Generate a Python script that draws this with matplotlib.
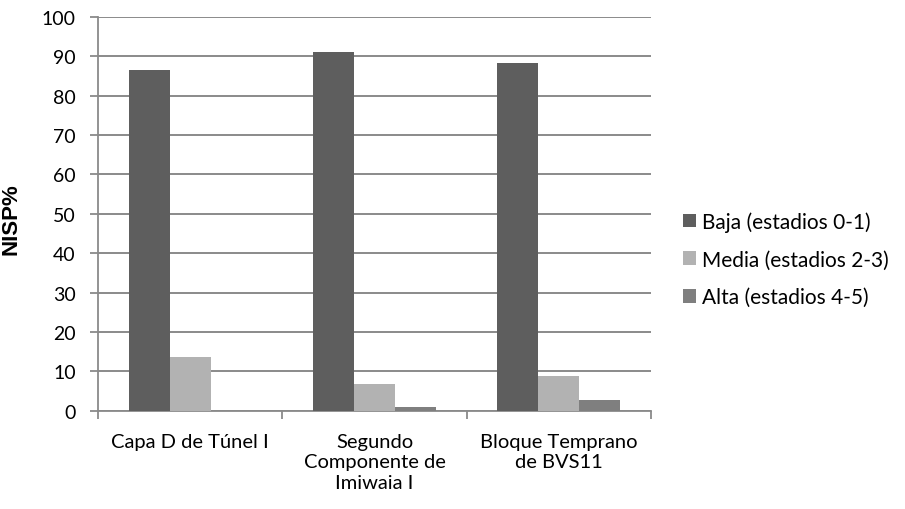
import numpy as np
import matplotlib.pyplot as plt

plt.rcParams['font.family'] = ['Lato', 'DejaVu Sans']

# NISP% por grado de meteorización en cada conjunto
categorias = ["Capa D de Túnel I", "Segundo\nComponente de\nImiwaia I", "Bloque Temprano\nde BVS11"]
baja = [86.5, 91.2, 88.4]
media = [13.6, 6.9, 8.8]
alta = [0.0, 0.9, 2.8]
series = ["Baja (estadios 0-1)", "Media (estadios 2-3)", "Alta (estadios 4-5)"]
colores = ["#5e5e5e", "#b2b2b2", "#7f7f7f"]

fig = plt.figure(figsize=(9.05, 5.10), dpi=100)
ax = fig.add_axes([0.1083, 0.1927, 0.611, 0.772])

x = np.arange(len(categorias))
ancho = 1 / 4.5
for i, (vals, nombre, color) in enumerate(zip([baja, media, alta], series, colores)):
    ax.bar(x + (i - 1) * ancho, vals, width=ancho, color=color, label=nombre, zorder=3)

ax.set_xlim(-0.5, len(categorias) - 0.5)
ax.set_ylim(0, 100)
ax.set_yticks(range(0, 101, 10))
ax.yaxis.grid(True, color="#8a8a8a", linewidth=1.4, zorder=0)

# marcas del eje x en los límites entre categorías
ax.set_xticks(np.arange(-0.5, len(categorias), 1.0))
ax.set_xticklabels([])
ax.set_xticks(x, minor=True)
ax.set_xticklabels(categorias, minor=True, fontsize=14.5, linespacing=1.25)
ax.tick_params(axis="x", which="minor", length=0, pad=16)
ax.tick_params(axis="x", which="major", length=6, color="#8a8a8a", width=1.3)
ax.tick_params(axis="y", length=6, color="#8a8a8a", width=1.3, labelsize=14, pad=10)

for lado in ["top", "right"]:
    ax.spines[lado].set_visible(False)
for lado in ["left", "bottom"]:
    ax.spines[lado].set_color("#8a8a8a")
    ax.spines[lado].set_linewidth(1.3)

ax.set_ylabel("NISP%", fontsize=16, fontweight="bold", family="Liberation Sans")
ax.yaxis.set_label_coords(-0.139, 0.49)

fig.legend(*ax.get_legend_handles_labels(), loc="center left",
           bbox_to_anchor=(0.755, 0.49), frameon=False, borderpad=0, borderaxespad=0,
           fontsize=15, handlelength=0.62, handleheight=0.62, handletextpad=0.3,
           labelspacing=0.85)

fig.savefig("out.png", dpi=100)
